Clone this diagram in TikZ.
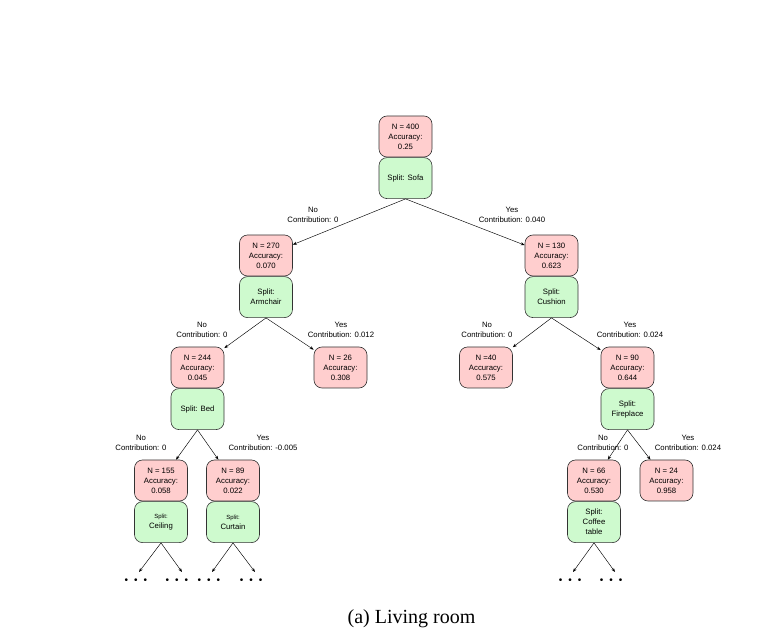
\documentclass[tikz,border=0pt]{standalone}
\usepackage{fontspec}
\setmainfont{Liberation Serif}
\setsansfont{Liberation Sans}
\usetikzlibrary{arrows.meta,positioning}
\definecolor{statred}{RGB}{255,206,206}
\definecolor{splitgreen}{RGB}{206,250,206}
\newcommand{\tinysplit}{{\fontsize{6}{8}\selectfont Split:}}

\begin{document}
\begin{tikzpicture}[x=1pt,y=-1pt,
    box/.style={draw=black!80,line width=0.6pt,rounded corners=8pt,
      minimum width=53pt,minimum height=41pt,inner sep=1pt,align=center,
      font=\sffamily\fontsize{7.75}{10}\selectfont},
    stat/.style={box,fill=statred},
    split/.style={box,fill=splitgreen},
    lbl/.style={align=center,inner sep=0pt,font=\sffamily\fontsize{7.75}{10}\selectfont},
    edge/.style={-{Stealth[length=4pt,width=3pt]},line width=0.45pt},
    dots/.style={inner sep=0pt,font=\sffamily\fontsize{10}{10}\selectfont}]
  \useasboundingbox (0,0) rectangle (772,644);

  % root
  \node[stat] (n400) at (405.5,136.5) {N = 400\\Accuracy:\\0.25};
  \node[split,below=0pt of n400] (sofa) {Split: Sofa};

  % level 1
  \node[stat] (n270) at (266,255.5) {N = 270\\Accuracy:\\0.070};
  \node[split,below=0pt of n270] (armchair) {Split:\\Armchair};
  \node[stat] (n130) at (551.5,255.5) {N = 130\\Accuracy:\\0.623};
  \node[split,below=0pt of n130] (cushion) {Split:\\Cushion};

  % level 2
  \node[stat] (n244) at (197.5,367.5) {N = 244\\Accuracy:\\0.045};
  \node[split,below=0pt of n244] (bed) {Split: Bed};
  \node[stat] (n26) at (340.5,367.5) {N = 26\\Accuracy:\\0.308};
  \node[stat] (n40) at (486,367.5) {N =40\\Accuracy:\\0.575};
  \node[stat] (n90) at (627.5,367.5) {N = 90\\Accuracy:\\0.644};
  \node[split,below=0pt of n90] (fireplace) {Split:\\Fireplace};

  % level 3
  \node[stat] (n155) at (161,480.5) {N = 155\\Accuracy:\\0.058};
  \node[split,below=0pt of n155] (ceiling) {\tinysplit\\Ceiling};
  \node[stat] (n89) at (233,480.5) {N = 89\\Accuracy:\\0.022};
  \node[split,below=0pt of n89] (curtain) {\tinysplit\\Curtain};
  \node[stat] (n66) at (594,480.5) {N = 66\\Accuracy:\\0.530};
  \node[split,below=0pt of n66] (coffee) {Split:\\Coffee\\table};
  \node[stat] (n24) at (666.5,480.5) {N = 24\\Accuracy:\\0.958};

  % branches
  \draw[edge] (sofa.south) -- (n270);
  \draw[edge] (sofa.south) -- (n130);
  \draw[edge] (armchair.south) -- (n244);
  \draw[edge] (armchair.south) -- (n26);
  \draw[edge] (cushion.south) -- (n40);
  \draw[edge] (cushion.south) -- (n90);
  \draw[edge] (bed.south) -- (n155);
  \draw[edge] (bed.south) -- (n89);
  \draw[edge] (fireplace.south) -- (n66);
  \draw[edge] (fireplace.south) -- (n24);

  % branch labels
  \node[lbl] (noSofa) at (313,215) {No\\Contribution: 0};
  \node[lbl] (yesSofa) at (512,215) {Yes\\Contribution: 0.040};
  \node[lbl] (noArm) at (202,330) {No\\Contribution: 0};
  \node[lbl] (yesArm) at (341,330) {Yes\\Contribution: 0.012};
  \node[lbl] (noCush) at (487,330) {No\\Contribution: 0};
  \node[lbl] (yesCush) at (630,330) {Yes\\Contribution: 0.024};
  \node[lbl] (noBed) at (141,443) {No\\Contribution: 0};
  \node[lbl] (yesBed) at (263,443) {Yes\\Contribution: -0.005};
  \node[lbl] (noFire) at (603,443) {No\\Contribution: 0};
  \node[lbl] (yesFire) at (688,443) {Yes\\Contribution: 0.024};

  % truncated subtrees
  \coordinate (ceilL) at (139,572);
  \coordinate (ceilR) at (182,572);
  \coordinate (curtL) at (212,572);
  \coordinate (curtR) at (255,572);
  \coordinate (coffL) at (573,572);
  \coordinate (coffR) at (615,572);
  \draw[edge] (ceiling.south) -- (ceilL);
  \draw[edge] (ceiling.south) -- (ceilR);
  \draw[edge] (curtain.south) -- (curtL);
  \draw[edge] (curtain.south) -- (curtR);
  \draw[edge] (coffee.south) -- (coffL);
  \draw[edge] (coffee.south) -- (coffR);
  \foreach \nm/\px in {dotsA/136,dotsB/177,dotsC/209,dotsD/251,dotsE/570,dotsF/611}
    \node[dots] (\nm) at (\px,581) {\textbullet\hspace{6pt}\textbullet\hspace{6pt}\textbullet};

  \node[font=\fontsize{20}{24}\selectfont] (caption) at (411.5,619) {(a) Living room};
\end{tikzpicture}
\end{document}
